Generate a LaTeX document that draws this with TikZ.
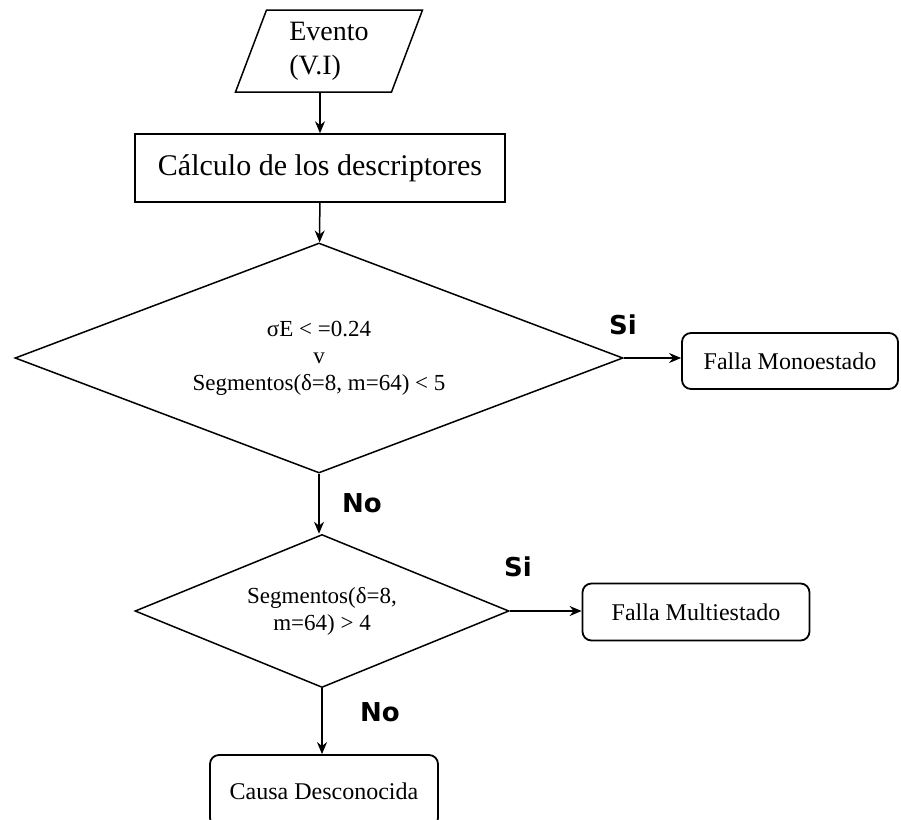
\documentclass[tikz,border=0pt]{standalone}
\usepackage{fontspec}
\setmainfont{Liberation Serif}
\newfontfamily\lblfont{DejaVu Sans}
\usetikzlibrary{arrows.meta}
\usetikzlibrary{positioning}
\usetikzlibrary{shapes.geometric}

\tikzset{
    flow/.style={-{Stealth[length=12pt,width=10pt]}, line width=1.5pt},
    io/.style={draw, line width=1.5pt, trapezium, trapezium left angle=62, trapezium right angle=118,
        trapezium stretches body, minimum width=187pt, minimum height=82pt, inner sep=0pt, align=left},
    proc/.style={draw, line width=1.5pt, rectangle, minimum width=370pt, minimum height=68pt},
    dec/.style={draw, line width=1.5pt, diamond, align=center, inner sep=0pt,
        font=\fontsize{23}{27}\selectfont},
    fin/.style={draw, line width=1.8pt, rounded corners=9pt, font=\fontsize{24}{27}\selectfont},
    lbl/.style={font=\lblfont\bfseries\fontsize{26}{30}\selectfont}
}

\begin{document}
\begin{tikzpicture}[x=1pt, y=-1pt]

            \useasboundingbox (0,0) rectangle (901,819);

            \node[io, font=\fontsize{28}{34}\selectfont] (ev) at (329,51) {Evento\\(V.I)};
            \node[proc, font=\fontsize{30}{34}\selectfont] (calc) at (320,168) {Cálculo de los descriptores};
            \node[dec, aspect=2.64, minimum width=608pt, minimum height=230pt] (dec_1) at (319,358)
                {σE < =0.24\\v\\Segmentos(δ=8, m=64) < 5};
            \node[dec, aspect=2.44, minimum width=374pt, minimum height=153pt] (dec_2) at (322,611)
                {Segmentos(δ=8,\\m=64) > 4};
            \node[fin, minimum width=216pt, minimum height=56pt] (mono) at (790,361) {Falla Monoestado};
            \node[fin, minimum width=227pt, minimum height=57pt] (multi) at (696,612) {Falla Multiestado};
            \node[fin, minimum width=228pt, minimum height=72pt] (desc) at (324,791) {Causa Desconocida};

            \node[lbl] (si_1) at (623,325) {Si};
            \node[lbl] (no_1) at (362,503) {No};
            \node[lbl] (si_2) at (518,567) {Si};
            \node[lbl] (no_2) at (380,712) {No};

            \draw[flow] (calc.north |- ev.south) -- (calc);
            \draw[flow] (calc) -- (dec_1);
            \draw[flow] (dec_1.east) -- (mono.west |- dec_1.east);
            \draw[flow] (dec_1.south) -- (dec_1.south |- dec_2.north);
            \draw[flow] (dec_2.east) -- (multi.west |- dec_2.east);
            \draw[flow] (dec_2.south) -- (dec_2.south |- desc.north);

        \end{tikzpicture}
\end{document}
